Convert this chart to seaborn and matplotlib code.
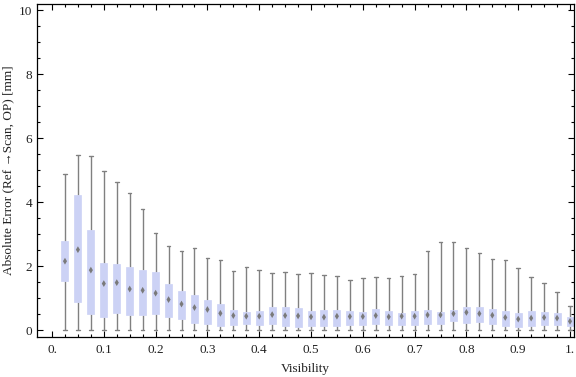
import matplotlib

matplotlib.use("Agg")
import matplotlib.pyplot as plt
import numpy as np
import pandas as pd
import seaborn as sns

# Visibility bins (box centres)
visibility = [
    0.025, 0.05, 0.075, 0.1, 0.125, 0.15, 0.175, 0.2, 0.225, 0.25,
    0.275, 0.3, 0.325, 0.35, 0.375, 0.4, 0.425, 0.45, 0.475, 0.5,
    0.525, 0.55, 0.575, 0.6, 0.625, 0.65, 0.675, 0.7, 0.725, 0.75,
    0.775, 0.8, 0.825, 0.85, 0.875, 0.9, 0.925, 0.95, 0.975, 1.0,
]

# Box-whisker statistics [mm]
err_min = [0.0] * 40
err_q1 = [
    1.54, 0.89, 0.51, 0.42, 0.55, 0.48, 0.48, 0.51, 0.42, 0.35,
    0.23, 0.20, 0.13, 0.17, 0.20, 0.17, 0.20, 0.13, 0.10, 0.13,
    0.13, 0.13, 0.17, 0.17, 0.20, 0.17, 0.17, 0.17, 0.20, 0.20,
    0.29, 0.23, 0.26, 0.20, 0.13, 0.10, 0.13, 0.17, 0.17, 0.13,
]
err_median = [
    2.16, 2.52, 1.88, 1.46, 1.49, 1.29, 1.25, 1.16, 0.96, 0.82,
    0.71, 0.65, 0.53, 0.46, 0.44, 0.44, 0.49, 0.46, 0.45, 0.42,
    0.41, 0.44, 0.43, 0.43, 0.46, 0.42, 0.44, 0.44, 0.48, 0.48,
    0.52, 0.56, 0.52, 0.47, 0.40, 0.35, 0.38, 0.40, 0.38, 0.28,
]
err_q3 = [
    2.78, 4.22, 3.13, 2.11, 2.08, 1.97, 1.90, 1.81, 1.44, 1.22,
    1.09, 0.94, 0.81, 0.63, 0.56, 0.59, 0.72, 0.72, 0.69, 0.59,
    0.63, 0.63, 0.59, 0.56, 0.66, 0.59, 0.53, 0.59, 0.63, 0.56,
    0.63, 0.72, 0.72, 0.66, 0.59, 0.53, 0.59, 0.56, 0.53, 0.41,
]
err_max = [
    4.90, 5.49, 5.44, 4.99, 4.65, 4.30, 3.80, 3.05, 2.65, 2.49,
    2.57, 2.27, 2.21, 1.86, 1.99, 1.90, 1.80, 1.83, 1.77, 1.80,
    1.74, 1.71, 1.58, 1.65, 1.68, 1.65, 1.71, 1.77, 2.49, 2.75,
    2.75, 2.58, 2.43, 2.24, 2.21, 1.96, 1.68, 1.49, 1.21, 0.77,
]

x_ticks = [0.0, 0.1, 0.2, 0.3, 0.4, 0.5, 0.6, 0.7, 0.8, 0.9, 1.0]
x_tick_labels = ["0.", "0.1", "0.2", "0.3", "0.4", "0.5", "0.6", "0.7", "0.8", "0.9", "1."]
y_ticks = [0, 2, 4, 6, 8, 10]

box_color = "#ccd2f5"
line_color = "#808080"

# five points per bin reproduce min / quartiles / max exactly
rows = []
for i, v in enumerate(visibility):
    for val in (err_min[i], err_q1[i], err_median[i], err_q3[i], err_max[i]):
        rows.append({"Visibility": v, "Error": val})
df = pd.DataFrame(rows)
df_med = pd.DataFrame({"Visibility": visibility, "Median": err_median})

sns.set_theme(style="ticks")
plt.rcParams["font.family"] = ["Liberation Serif", "DejaVu Serif"]
plt.rcParams["font.size"] = 9.5

fig = plt.figure(figsize=(5.76, 3.77), dpi=100)
ax = fig.add_axes([37 / 576, 1 - 337 / 377, (574 - 37) / 576, (337 - 4) / 377])

sns.boxplot(
    data=df,
    x="Visibility",
    y="Error",
    native_scale=True,
    whis=(0, 100),
    width=0.54,
    color=box_color,
    saturation=1,
    linecolor=line_color,
    linewidth=1,
    showfliers=False,
    boxprops=dict(edgecolor=box_color, facecolor=box_color, linewidth=0.5, zorder=2),
    whiskerprops=dict(color=line_color, linewidth=1, zorder=1),
    capprops=dict(color=line_color, linewidth=1),
    medianprops=dict(visible=False),
    ax=ax,
)
sns.scatterplot(
    data=df_med,
    x="Visibility",
    y="Median",
    marker="d",
    s=12,
    color="#7a7a7a",
    edgecolor="none",
    zorder=3,
    ax=ax,
)

ax.set_xlim(-0.029, 1.0077)
ax.set_ylim(-0.21, 10.2)
ax.set_xticks(x_ticks)
ax.set_xticklabels(x_tick_labels)
ax.set_xticks(np.arange(0, 1.0001, 0.025), minor=True)
ax.set_yticks(y_ticks)
ax.set_yticks(np.arange(0, 10.01, 0.5), minor=True)
ax.tick_params(which="both", direction="in", top=True, right=True, color="black",
               labelsize=9.5, labelcolor="#222222")
ax.tick_params(which="major", length=4.5, width=0.8)
ax.tick_params(axis="x", which="major", pad=5)
ax.tick_params(which="minor", length=2.5, width=0.8)
for s in ax.spines.values():
    s.set_visible(True)
    s.set_linewidth(0.9)
    s.set_color("black")

ax.set_xlabel("Visibility", fontsize=9.5, color="#222222")
ax.set_ylabel("Absolute Error (Ref \u2192Scan, OP) [mm]", fontsize=9.5, color="#222222")
ax.xaxis.set_label_coords(0.5, -0.077)
ax.yaxis.set_label_coords(-0.043, 0.5)

fig.savefig("out.png", dpi=100)
